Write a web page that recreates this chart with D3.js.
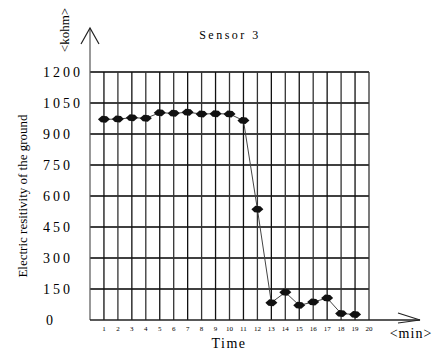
<!DOCTYPE html>
<html>
<head>
<meta charset="utf-8">
<script src="https://cdn.jsdelivr.net/npm/d3@7"></script>
<style>
  body { margin: 0; background: #fff; }
  text { font-family: "Liberation Serif", "DejaVu Serif", serif; fill: #000; }
</style>
</head>
<body>
<script>
// data
const minutes = [1, 2, 3, 4, 5, 6, 7, 8, 9, 10, 11, 12, 13, 14, 15, 16, 17, 18, 19];
const resistivity = [971, 972, 979, 976, 1003, 1000, 1005, 997, 998, 997, 965, 536, 84, 134, 71, 87, 106, 31, 27];
const yTicks = [0, 150, 300, 450, 600, 750, 900, 1050, 1200];
const xTicks = d3.range(1, 21);

const width = 438, height = 354;
const x = d3.scaleLinear().domain([0, 20]).range([90, 369]);
const y = d3.scaleLinear().domain([0, 1200]).range([320, 72]);

const svg = d3.select("body").append("svg")
    .attr("width", width)
    .attr("height", height);

// grid
const grid = svg.append("g").attr("stroke", "#000").attr("stroke-width", 1.3);
grid.selectAll("line.h")
  .data(yTicks.filter(d => d > 0))
  .join("line")
    .attr("x1", x(0)).attr("x2", x(20))
    .attr("y1", d => y(d)).attr("y2", d => y(d));
grid.selectAll("line.v")
  .data(xTicks)
  .join("line")
    .attr("stroke", (d, i) => i % 2 ? "#333" : "#111")
    .attr("x1", d => x(d)).attr("x2", d => x(d))
    .attr("y1", y(1200)).attr("y2", y(0));

// axes with arrows
const axes = svg.append("g").attr("stroke", "#222").attr("stroke-width", 1.2).attr("fill", "none");
axes.append("line").attr("x1", x(0)).attr("x2", x(0)).attr("y1", y(0)).attr("y2", 28).attr("stroke", "#555");
axes.append("polyline").attr("points", [[81, 44], [x(0), 28], [99, 44]].join(" "));
axes.append("line").attr("x1", x(0)).attr("x2", 420).attr("y1", y(0)).attr("y2", y(0)).attr("stroke-width", 1.5);
axes.append("polyline").attr("points", [[398, 313], [420, 320], [398, 323]].join(" "));

// y tick labels
svg.append("g").selectAll("text")
  .data(yTicks)
  .join("text")
    .attr("x", d => d === 0 ? 46 : 43)
    .attr("y", d => y(d) + 5)
    .attr("font-size", 14)
    .attr("letter-spacing", 3)
    .text(d => d);

// x tick labels
svg.append("g").selectAll("text")
  .data(xTicks)
  .join("text")
    .attr("x", d => x(d))
    .attr("y", 331)
    .attr("text-anchor", "middle")
    .attr("font-size", 7)
    .text(d => d);

// series line
const line = d3.line().x((d, i) => x(minutes[i])).y(d => y(d));
svg.append("path")
  .datum(resistivity)
  .attr("fill", "none")
  .attr("stroke", "#444")
  .attr("stroke-width", 1)
  .attr("d", line);

// markers
svg.append("g").selectAll("path")
  .data(resistivity)
  .join("path")
    .attr("transform", (d, i) => `translate(${x(minutes[i])},${y(d)})`)
    .attr("d", "M-6,0 L-2,-3.5 L3,-3 L6,0 L2,3.5 L-3,3 Z")
    .attr("fill", "#111");

// titles
svg.append("text")
  .attr("x", 230).attr("y", 39)
  .attr("text-anchor", "middle")
  .attr("font-size", 12)
  .attr("letter-spacing", 2.5)
  .text("Sensor 3");

svg.append("text")
  .attr("transform", "translate(69,30) rotate(-90)")
  .attr("text-anchor", "middle")
  .attr("font-size", 13)
  .text("<kohm>");

svg.append("text")
  .attr("transform", "translate(27,196) rotate(-90)")
  .attr("text-anchor", "middle")
  .attr("font-size", 13)
  .text("Electric resitivity of the ground");

svg.append("text")
  .attr("x", 229).attr("y", 348)
  .attr("text-anchor", "middle")
  .attr("font-size", 14)
  .attr("letter-spacing", 1.5)
  .text("Time");

svg.append("text")
  .attr("x", 411).attr("y", 338)
  .attr("text-anchor", "middle")
  .attr("font-size", 14)
  .attr("letter-spacing", 1)
  .text("<min>");
</script>
</body>
</html>
